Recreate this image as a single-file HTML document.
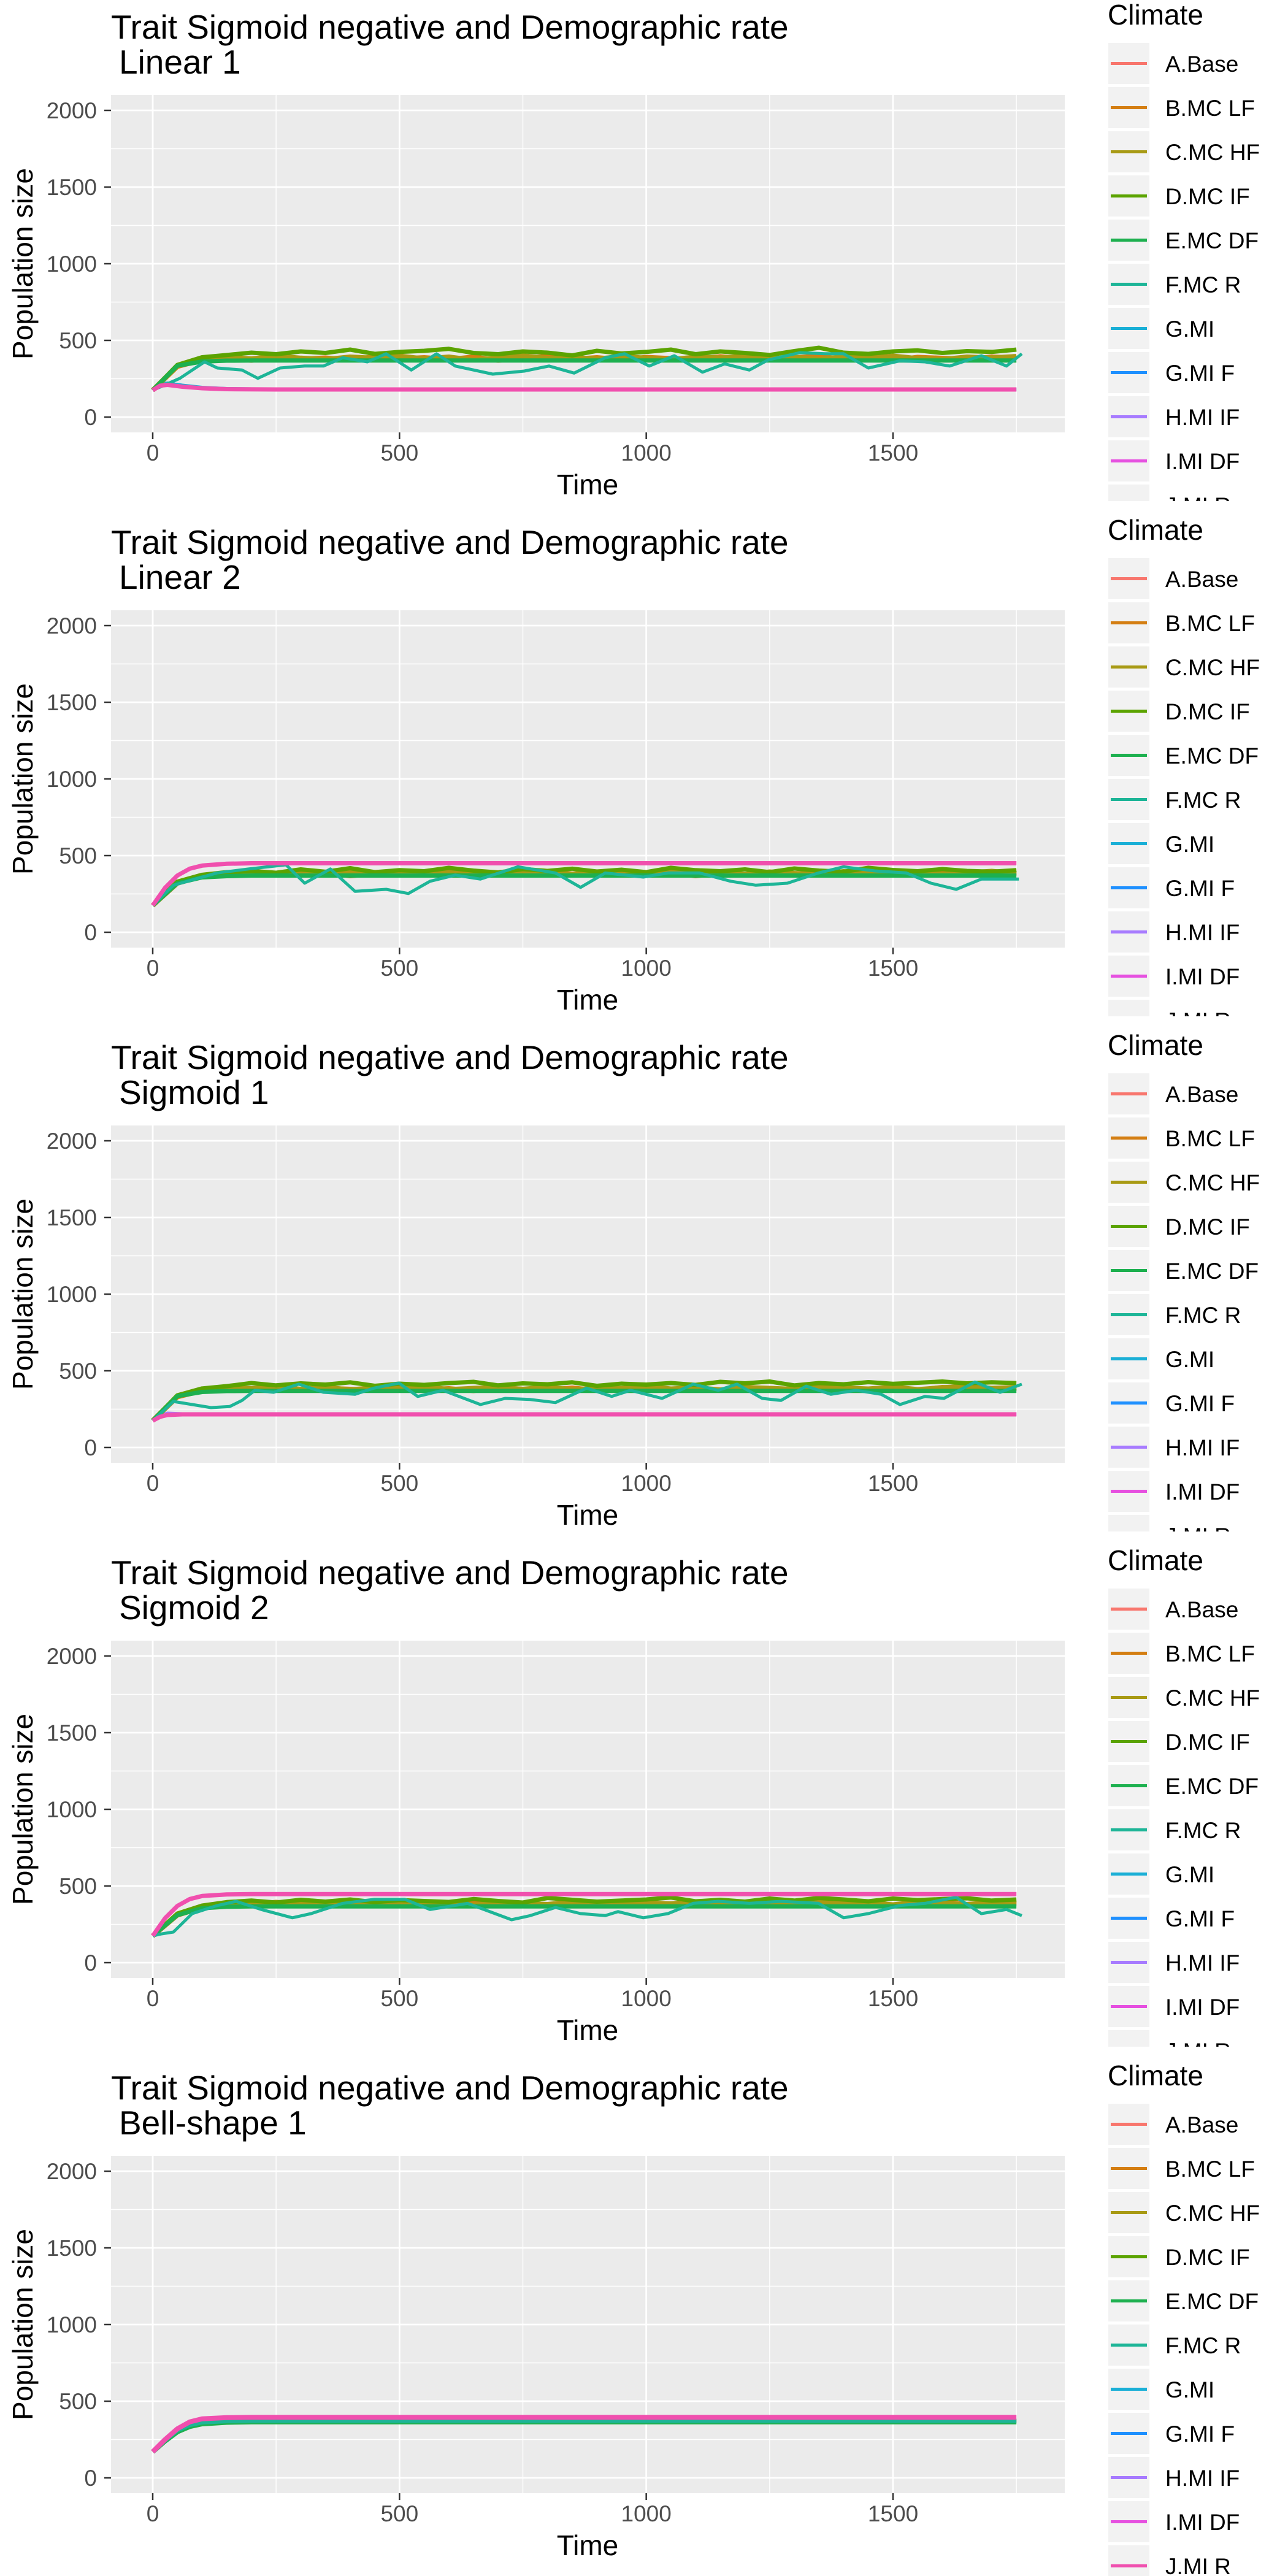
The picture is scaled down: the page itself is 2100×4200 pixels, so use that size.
<!DOCTYPE html>
<html><head><meta charset="utf-8"><title>Trait Sigmoid negative panels</title>
<style>
html,body{margin:0;padding:0;background:#fff;}
svg{display:block;font-family:"Liberation Sans",Arial,sans-serif;}
</style></head>
<body>
<svg id="fig" width="2100" height="4200" viewBox="0 0 2100 4200" xmlns="http://www.w3.org/2000/svg"></svg>
<script>
// ---------- shared data ----------
const panelTitles = ["Linear 1","Linear 2","Sigmoid 1","Sigmoid 2","Bell-shape 1"];
const xTicks = [0,500,1000,1500];
const xMinor = [250,750,1250,1750];
const yTicks = [0,500,1000,1500,2000];
const yMinor = [250,750,1250,1750];
const legendNames = ["A.Base","B.MC LF","C.MC HF","D.MC IF","E.MC DF","F.MC R","G.MI","G.MI F","H.MI IF","I.MI DF","J.MI R"];
const legendColors = ["#F8766D","#D47E12","#A89A14","#5BA300","#1DB04F","#1DB597","#1AAFD6","#1E90FF","#A77BFF","#E650E0","#F04FAE"];
const grid50 = [0,50,100,150,200,250,300,350,400,450,500,550,600,650,700,750,800,850,900,950,1000,1050,1100,1150,1200,1250,1300,1350,1400,1450,1500,1550,1600,1650,1700,1750];
const riseT = [0,25,50,75,100,150,200,1750];

// ---------- panel 1: Linear 1 ----------
const p1B = [175,330,372,385,370,392,378,386,372,395,380,388,376,392,370,384,395,378,388,374,390,382,376,394,380,372,388,396,378,386,372,390,384,378,392,386];
const p1C = [175,335,378,390,380,398,385,376,392,384,398,380,392,372,386,400,382,390,378,396,384,374,392,386,398,380,390,376,394,384,398,382,376,392,386,396];
const p1D = [175,340,390,405,420,410,428,418,440,412,425,432,445,418,410,428,420,402,432,415,425,440,410,428,418,405,430,452,420,412,428,435,418,430,425,440];
const p1E = [175,335,362,368,369,369,369,369,369,369,369,369,369,369,369,369,369,369,369,369,369,369,369,369,369,369,369,369,369,369,369,369,369,369,369,369];
const p1FT = [0,55,105,131,181,213,258,308,346,385,435,473,524,575,613,689,753,803,854,917,956,1006,1057,1114,1159,1209,1247,1311,1362,1400,1450,1514,1565,1615,1679,1730,1761];
const p1F = [175,253,360,320,307,253,320,333,333,387,360,413,307,413,333,280,300,333,287,387,413,333,400,293,347,307,373,420,413,413,320,367,360,333,400,333,413];
const p1MiT = [0,15,30,60,100,150,250,1750];
const p1G = [175,212,220,206,192,184,180,180];
const p1Mi = [175,205,210,198,188,182,180,180];

// ---------- panel 2: Linear 2 ----------
const p2B = [175,320,365,378,372,386,374,390,368,382,376,392,380,370,388,374,396,380,372,386,378,392,368,384,376,390,380,372,388,376,384,370,392,380,374,386];
const p2C = [175,325,370,384,380,376,392,382,398,376,388,380,394,384,376,398,386,380,392,376,388,400,382,390,376,394,384,378,396,386,380,392,378,388,398,384];
const p2D = [175,330,375,392,400,388,410,395,418,392,405,398,420,402,390,412,400,415,396,408,392,420,405,398,410,392,416,402,395,420,406,398,412,400,395,405];
const p2E = [175,320,358,366,370,370,370,370,370,370,370,370,370,370,370,370,370,370,370,370,370,370,370,370,370,370,370,370,370,370,370,370,370,370,370,370];
const p2FT = [0,42,130,194,270,308,360,410,473,518,562,613,664,740,816,867,917,994,1044,1108,1171,1222,1286,1349,1400,1463,1527,1577,1628,1679,1755];
const p2F = [175,307,387,413,440,320,413,267,280,253,333,373,347,427,387,293,387,360,387,387,333,307,320,387,427,400,387,320,280,347,347];
const p2Mi = [175,290,370,415,435,447,450,450];

// ---------- panel 3: Sigmoid 1 ----------
const p3B = [175,330,370,382,378,390,372,386,380,375,392,378,384,370,390,380,376,388,372,384,392,378,386,374,390,380,376,392,384,378,388,374,392,386,380,384];
const p3C = [175,335,375,388,384,396,380,392,376,390,384,398,378,386,392,380,394,376,388,384,398,382,390,376,392,386,380,396,388,382,394,378,390,400,386,392];
const p3D = [175,340,385,400,420,405,418,410,425,402,416,408,420,428,405,418,412,425,402,416,410,420,408,428,418,430,405,420,412,426,415,422,430,418,425,420];
const p3E = [175,335,362,368,369,369,369,369,369,369,369,369,369,369,369,369,369,369,369,369,369,369,369,369,369,369,369,369,369,369,369,369,369,369,369,369];
const p3FT = [0,42,80,118,156,181,207,245,296,346,410,448,499,537,588,664,714,765,816,879,930,968,1032,1095,1146,1184,1235,1273,1324,1374,1425,1476,1514,1565,1603,1666,1717,1761];
const p3F = [175,300,280,260,267,307,373,360,413,360,347,387,420,333,373,280,320,313,293,387,333,373,320,413,373,413,320,307,400,347,373,347,280,333,320,427,360,413];
const p3MiT = [0,15,30,60,100,200,1750];
const p3G = [175,208,222,218,216,216,216];
const p3Mi = [175,200,212,216,216,216,216];

// ---------- panel 4: Sigmoid 2 ----------
const p4B = [175,310,360,378,372,388,376,392,380,372,390,384,376,394,380,388,372,386,392,378,384,374,390,382,376,394,386,378,390,382,376,388,394,380,386,382];
const p4C = [175,315,365,384,380,394,382,376,392,386,398,380,388,376,392,384,380,396,388,378,390,384,398,376,388,392,380,396,384,390,378,394,386,380,392,388];
const p4D = [175,320,372,395,405,392,410,398,412,395,408,402,396,415,402,392,422,410,398,405,412,425,400,410,398,418,405,422,412,400,418,408,415,420,405,412];
const p4E = [175,310,355,365,367,367,367,367,367,367,367,367,367,367,367,367,367,367,367,367,367,367,367,367,367,367,367,367,367,367,367,367,367,367,367,367];
const p4FT = [0,16,42,80,131,169,220,283,321,385,448,511,562,638,727,765,816,867,917,943,994,1044,1095,1146,1209,1273,1349,1400,1450,1514,1565,1628,1679,1730,1761];
const p4F = [175,187,200,320,373,400,347,293,320,387,413,413,347,387,280,307,360,320,307,333,293,320,387,400,387,400,387,293,320,373,387,427,320,347,307];
const p4Mi = [175,290,370,415,435,445,447,447];

// ---------- panel 5: Bell-shape 1 ----------
const p5B = [170,245,305,340,358,368,372,372];
const p5E = [170,240,300,335,352,362,365,365];
const p5F = [170,245,310,345,362,370,372,372];
const p5Mi = [170,250,320,365,385,393,395,395];

// series lists: [time array, value array, legend index, stroke width]
const panelSeries = [
  [[p1MiT,p1G,6,6],[grid50,p1B,1,8],[grid50,p1C,2,8],[grid50,p1D,3,7],[grid50,p1E,4,7],[p1FT,p1F,5,5],[p1MiT,p1Mi,10,7]],
  [[grid50,p2B,1,8],[grid50,p2C,2,8],[grid50,p2D,3,7],[grid50,p2E,4,7],[p2FT,p2F,5,5],[riseT,p2Mi,10,7]],
  [[p3MiT,p3G,8,6],[grid50,p3B,1,8],[grid50,p3C,2,8],[grid50,p3D,3,7],[grid50,p3E,4,7],[p3FT,p3F,5,5],[p3MiT,p3Mi,10,7]],
  [[grid50,p4B,1,8],[grid50,p4C,2,8],[grid50,p4D,3,7],[grid50,p4E,4,7],[p4FT,p4F,5,5],[riseT,p4Mi,10,7]],
  [[riseT,p5B,1,7],[riseT,p5E,4,8],[riseT,p5F,5,7],[riseT,p5Mi,10,8]]
];

// ---------- drawing ----------
const NS = "http://www.w3.org/2000/svg";
const svg = document.getElementById("fig");
const PL = 181, PR = 1736, PT = 155, PB = 705;
function xs(t){ return 249 + t * (1207/1500); }
function ys(v){ return 680 - v * 0.25; }
function mk(tag, attrs, parent){
  const e = document.createElementNS(NS, tag);
  for (const k in attrs) e.setAttribute(k, attrs[k]);
  parent.appendChild(e);
  return e;
}

const defs = mk("defs", {}, svg);
for (let p = 0; p < 5; p++){
  const cp = mk("clipPath", {id:"lc"+p}, defs);
  mk("rect", {x:1780, y:0, width:320, height:(p===4?840:817)}, cp);
}

panelTitles.forEach((name, p) => {
  const g = mk("g", {transform:"translate(0,"+(p*840)+")"}, svg);
  
  

  const t1 = mk("text", {x:181, y:63, "font-size":55, fill:"#000"}, g);
  t1.textContent = "Trait Sigmoid negative and Demographic rate";
  
  
  const t2 = mk("text", {x:194, y:120, "font-size":55, fill:"#000"}, g);
  t2.textContent = name;
  
  

  const bg = mk("rect", {x:PL, y:PT, width:PR-PL, height:PB-PT, fill:"#EBEBEB"}, g);
  
  

  yMinor.forEach(v => {
    const l = mk("line", {x1:PL, x2:PR, y1:ys(v), y2:ys(v), stroke:"#fff", "stroke-width":1.4}, g);
    
    
  });
  xMinor.forEach(v => {
    const l = mk("line", {x1:xs(v), x2:xs(v), y1:PT, y2:PB, stroke:"#fff", "stroke-width":1.4}, g);
    
    
  });
  yTicks.forEach(v => {
    const l = mk("line", {x1:PL, x2:PR, y1:ys(v), y2:ys(v), stroke:"#fff", "stroke-width":2.8}, g);
    
    
    const tk = mk("line", {x1:170, x2:PL, y1:ys(v), y2:ys(v), stroke:"#333", "stroke-width":2.5}, g);
    
    
    const tl = mk("text", {x:158, y:ys(v)+13, "font-size":37, fill:"#4D4D4D", "text-anchor":"end"}, g);
    tl.textContent = v;
    
    
  });
  xTicks.forEach(v => {
    const l = mk("line", {x1:xs(v), x2:xs(v), y1:PT, y2:PB, stroke:"#fff", "stroke-width":2.8}, g);
    
    
    const tk = mk("line", {x1:xs(v), x2:xs(v), y1:PB, y2:PB+11, stroke:"#333", "stroke-width":2.5}, g);
    
    
    const tl = mk("text", {x:xs(v), y:751, "font-size":37, fill:"#4D4D4D", "text-anchor":"middle"}, g);
    tl.textContent = v;
    
    
  });

  panelSeries[p].forEach(s => {
    const [tArr, vArr, idx, w] = s;
    const d = tArr.map((t,i) => (i? "L":"M") + xs(t).toFixed(1) + "," + ys(vArr[i]).toFixed(1)).join(" ");
    const path = mk("path", {d:d, fill:"none", stroke:legendColors[idx], "stroke-width":w, "stroke-linejoin":"round"}, g);
    
    
  });

  const yt = mk("text", {x:0, y:0, "font-size":46, fill:"#000", "text-anchor":"middle", transform:"translate(53,430) rotate(-90)"}, g);
  yt.textContent = "Population size";
  
  
  const xt = mk("text", {x:958, y:806, "font-size":46, fill:"#000", "text-anchor":"middle"}, g);
  xt.textContent = "Time";
  
  

  const lg = mk("g", {"clip-path":"url(#lc"+p+")"}, g);
  
  
  const lt = mk("text", {x:1806, y:40, "font-size":46, fill:"#000"}, lg);
  lt.textContent = "Climate";
  
  
  legendNames.forEach((nm, i) => {
    const ky = 70 + i*72;
    const eg = mk("g", {}, lg);
    
    
    mk("rect", {x:1807, y:ky, width:67, height:67, fill:"#F2F2F2"}, eg);
    mk("line", {x1:1811, x2:1870, y1:ky+33.5, y2:ky+33.5, stroke:legendColors[i], "stroke-width":5}, eg);
    const tx = mk("text", {x:1900, y:ky+47, "font-size":37, fill:"#000"}, eg);
    tx.textContent = nm;
  });
});
</script>
</body></html>
